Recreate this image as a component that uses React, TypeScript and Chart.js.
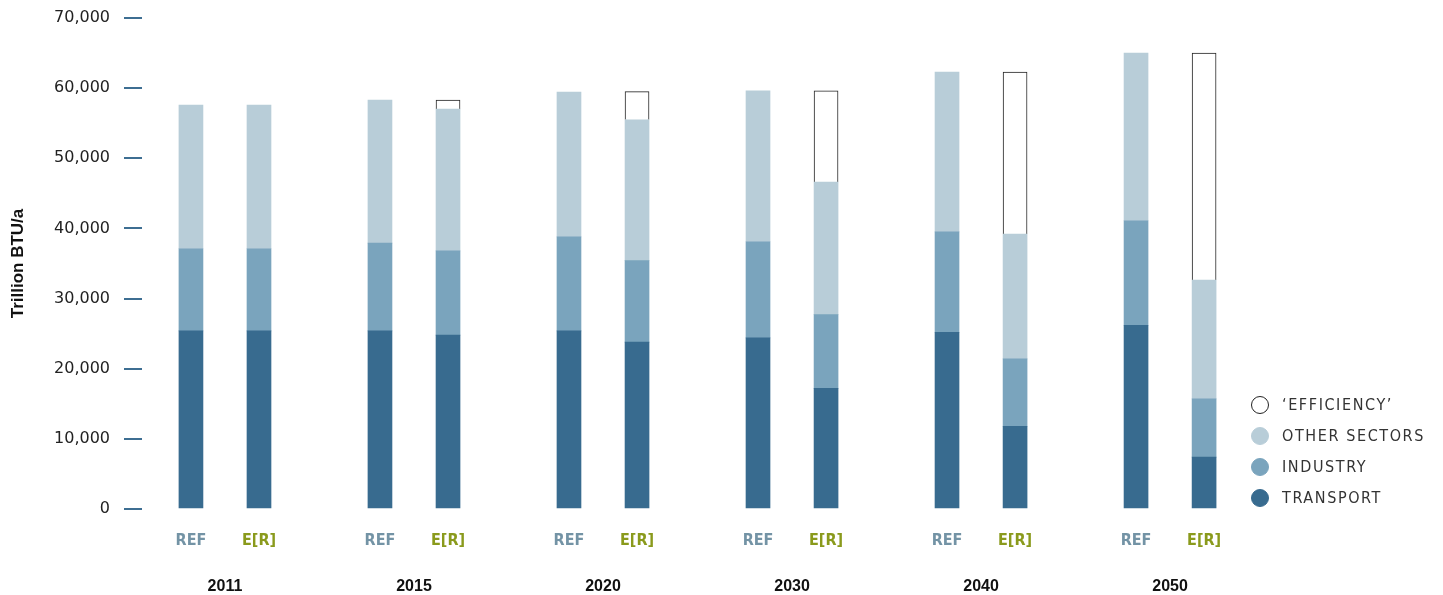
import React, { useEffect, useRef } from "react";
import { Chart, registerables } from "chart.js";

Chart.register(...registerables);

const years = ["2011", "2015", "2020", "2030", "2040", "2050"];
const scenarios = ["REF", "E[R]"];
const transportRef = [25400, 25400, 25400, 24400, 25200, 26200];
const transportER = [25400, 24800, 23800, 17200, 11800, 7400];
const industryRef = [11700, 12500, 13400, 13700, 14300, 14900];
const industryER = [11700, 12000, 11600, 10500, 9600, 8300];
const otherRef = [20500, 20400, 20650, 21500, 22800, 23900];
const otherER = [20500, 20200, 20100, 18900, 17800, 16950];
const efficiencyER = [0, 1300, 4000, 13000, 23100, 32350];
const yTicks = [0, 10000, 20000, 30000, 40000, 50000, 60000, 70000];

const C_TRANSPORT = "#386b8f";
const C_INDUSTRY = "#7aa4bd";
const C_OTHER = "#b8cdd8";
const C_REF = "#7393a5";
const C_ER = "#8a9a1c";

const ER_OFFSET = 0.36;
const refX = (g: number) => g;
const erX = (g: number) => g + ER_OFFSET;
const X_MIN = -0.259;
const X_MAX = 5.55;

function pairs(refVals: (number | null)[], erVals: (number | null)[]) {
  const out: { x: number; y: number | null }[] = [];
  years.forEach((_, g) => {
    out.push({ x: refX(g), y: refVals[g] });
    out.push({ x: erX(g), y: erVals[g] });
  });
  return out;
}

const legendItems = [
  { label: "\u2018EFFICIENCY\u2019", fill: "#ffffff", border: "#222" },
  { label: "OTHER SECTORS", fill: C_OTHER, border: C_OTHER },
  { label: "INDUSTRY", fill: C_INDUSTRY, border: C_INDUSTRY },
  { label: "TRANSPORT", fill: C_TRANSPORT, border: C_TRANSPORT },
];

export default function App() {
  const ref = useRef<HTMLCanvasElement | null>(null);

  useEffect(() => {
    if (!ref.current) return;
    const barPositions: number[] = [];
    years.forEach((_, g) => {
      barPositions.push(refX(g), erX(g));
    });
    const chart = new Chart(ref.current, {
      type: "bar",
      data: {
        datasets: [
          {
            label: "TRANSPORT",
            data: pairs(transportRef, transportER),
            backgroundColor: C_TRANSPORT,
            stack: "s",
          },
          {
            label: "INDUSTRY",
            data: pairs(industryRef, industryER),
            backgroundColor: C_INDUSTRY,
            stack: "s",
          },
          {
            label: "OTHER SECTORS",
            data: pairs(otherRef, otherER),
            backgroundColor: C_OTHER,
            stack: "s",
          },
          {
            label: "'EFFICIENCY'",
            data: pairs(
              years.map(() => null),
              efficiencyER.map((v) => (v > 0 ? v : null))
            ),
            backgroundColor: "#ffffff",
            borderColor: "#222222",
            borderWidth: 1,
            stack: "s",
          },
        ] as any,
      },
      options: {
        responsive: false,
        animation: false,
        datasets: { bar: { barThickness: 24 } } as any,
        layout: { padding: { top: 18, right: 203, left: 0, bottom: 0 } },
        plugins: {
          legend: { display: false },
          tooltip: { enabled: false },
        },
        scales: {
          x: {
            type: "linear",
            stacked: true,
            offset: false,
            min: X_MIN,
            max: X_MAX,
            position: "bottom",
            grid: { display: false, offset: false },
            border: { display: false },
            afterBuildTicks: (scale: any) => {
              scale.ticks = barPositions.map((v) => ({ value: v }));
            },
            afterFit: (scale: any) => {
              scale.height = 50;
            },
            ticks: {
              autoSkip: false,
              maxRotation: 0,
              padding: 14,
              callback: (_v: any, i: number) => scenarios[i % 2],
              color: (ctx: any) => (ctx.index % 2 === 0 ? C_REF : C_ER),
              font: { family: "'DejaVu Sans Condensed'", size: 16, weight: "bold" },
            },
          },
          x2: {
            type: "linear",
            offset: false,
            min: X_MIN,
            max: X_MAX,
            position: "bottom",
            grid: { display: false, offset: false },
            border: { display: false },
            afterBuildTicks: (scale: any) => {
              scale.ticks = years.map((_, g) => ({ value: (refX(g) + erX(g)) / 2 }));
            },
            afterFit: (scale: any) => {
              scale.height = 36;
            },
            ticks: {
              autoSkip: false,
              maxRotation: 0,
              padding: 10,
              callback: (_v: any, i: number) => years[i],
              color: "#111111",
              font: { family: "'Liberation Sans'", size: 16, weight: "bold" },
            },
          },
          y: {
            stacked: true,
            min: 0,
            max: 70000,
            afterBuildTicks: (scale: any) => {
              scale.ticks = yTicks.map((v) => ({ value: v }));
            },
            afterFit: (scale: any) => {
              scale.width = 142;
              scale.paddingTop = 0;
              scale.paddingBottom = 0;
            },
            grid: {
              drawOnChartArea: false,
              drawTicks: true,
              tickLength: 18,
              color: "#3d6e92",
              lineWidth: 2,
            },
            border: { display: false },
            ticks: {
              padding: 14,
              color: "#222222",
              font: { family: "'DejaVu Sans'", size: 16 },
              callback: (v: any) => Number(v).toLocaleString("en-US"),
            },
            title: {
              display: true,
              text: "Trillion BTU/a",
              color: "#111111",
              font: { family: "'Liberation Sans'", size: 17, weight: "bold" },
              padding: { top: 8, bottom: 4 },
            },
          },
        },
      } as any,
    });
    return () => chart.destroy();
  }, []);

  return (
    <div style={{ position: "fixed", left: 0, top: 0, width: 1443, height: 595, background: "#fff" }}>
      <canvas ref={ref} width={1443} height={595} style={{ display: "block" }} />
      <div style={{ position: "absolute", left: 1251, top: 389 }}>
        {legendItems.map((it) => (
          <div key={it.label} style={{ display: "flex", alignItems: "center", height: 31 }}>
            <span
              style={{
                width: 18,
                height: 18,
                borderRadius: "50%",
                background: it.fill,
                border: `1.5px solid ${it.border}`,
                boxSizing: "border-box",
                display: "inline-block",
                marginRight: 13,
              }}
            />
            <span
              style={{
                fontFamily: "'DejaVu Sans Condensed', sans-serif",
                fontSize: 16,
                letterSpacing: 1.6,
                color: "#333",
                whiteSpace: "nowrap",
              }}
            >
              {it.label}
            </span>
          </div>
        ))}
      </div>
    </div>
  );
}
